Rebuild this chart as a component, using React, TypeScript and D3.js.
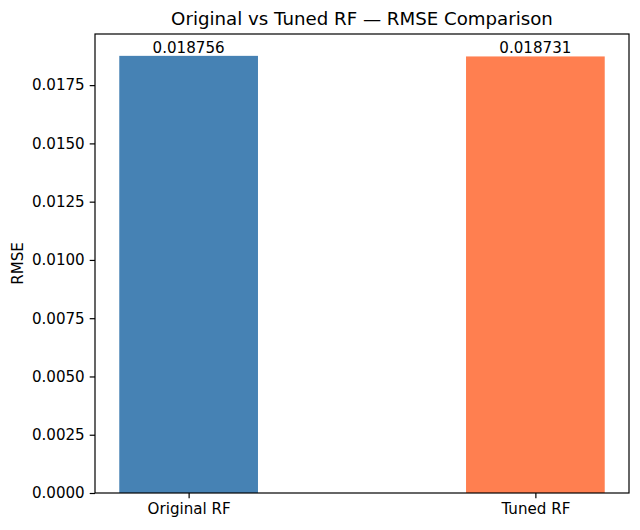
import React, { useEffect, useRef } from 'react';
import * as d3 from 'd3';

const models = ['Original RF', 'Tuned RF'];
const rmse = [0.018756, 0.018731];
const barColors = ['#4682B4', '#FF7F50'];
const yTicks = [0, 0.0025, 0.005, 0.0075, 0.01, 0.0125, 0.015, 0.0175];

const App: React.FC = () => {
  const svgRef = useRef<SVGSVGElement>(null);

  useEffect(() => {
    if (!svgRef.current) return;
    const width = 640;
    const height = 530;
    const left = 95, right = 629, top = 34, bottom = 493;
    const font = 'DejaVu Sans, sans-serif';
    const tickFont = '15.1px';

    const svg = d3.select(svgRef.current);
    svg.selectAll('*').remove();
    svg.attr('width', width).attr('height', height);

    const x = d3.scaleLinear().domain([-0.27, models.length - 1 + 0.27]).range([left, right]);
    const y = d3.scaleLinear().domain([0, d3.max(rmse)! * 1.05]).range([bottom, top]);
    const barW = 0.4;

    // bars
    svg.selectAll('.bar')
      .data(rmse)
      .enter()
      .append('rect')
      .attr('x', (d, i) => x(i - barW / 2))
      .attr('width', x(barW) - x(0))
      .attr('y', d => y(d))
      .attr('height', d => y(0) - y(d))
      .attr('fill', (d, i) => barColors[i]);

    // value labels
    svg.selectAll('.val')
      .data(rmse)
      .enter()
      .append('text')
      .attr('x', (d, i) => x(i))
      .attr('y', d => y(d) - 3)
      .attr('text-anchor', 'middle')
      .style('font-family', font)
      .style('font-size', tickFont)
      .style('fill', '#000')
      .text(d => d.toFixed(6));

    // y axis
    const yAxis = d3.axisLeft(y)
      .tickValues(yTicks)
      .tickSize(5.3)
      .tickPadding(5)
      .tickFormat(d => (d as number).toFixed(4));
    const gy = svg.append('g').attr('transform', `translate(${left},0)`).call(yAxis);
    gy.select('.domain').remove();
    gy.selectAll('line').attr('stroke', '#000').attr('stroke-width', 1.2);
    gy.selectAll('text').style('font-family', font).style('font-size', tickFont).attr('fill', '#000');

    // x axis
    const xAxis = d3.axisBottom(x)
      .tickValues(models.map((_, i) => i))
      .tickSize(5.3)
      .tickPadding(5)
      .tickFormat((d) => models[d as number]);
    const gx = svg.append('g').attr('transform', `translate(0,${bottom})`).call(xAxis);
    gx.select('.domain').remove();
    gx.selectAll('line').attr('stroke', '#000').attr('stroke-width', 1.2);
    gx.selectAll('text').style('font-family', font).style('font-size', tickFont).attr('fill', '#000');

    // frame
    svg.append('rect')
      .attr('x', left)
      .attr('y', top)
      .attr('width', right - left)
      .attr('height', bottom - top)
      .attr('fill', 'none')
      .attr('stroke', '#000')
      .attr('stroke-width', 1.2);

    // title
    svg.append('text')
      .attr('x', (left + right) / 2)
      .attr('y', 25)
      .attr('text-anchor', 'middle')
      .style('font-family', font)
      .style('font-size', '18.2px')
      .style('fill', '#000')
      .text('Original vs Tuned RF — RMSE Comparison');

    // y label
    svg.append('text')
      .attr('transform', `translate(23,${(top + bottom) / 2}) rotate(-90)`)
      .attr('text-anchor', 'middle')
      .style('font-family', font)
      .style('font-size', tickFont)
      .style('fill', '#000')
      .text('RMSE');
  }, []);

  return (
    <div style={{ margin: -8 }}>
      <svg ref={svgRef}></svg>
    </div>
  );
};

export default App;
